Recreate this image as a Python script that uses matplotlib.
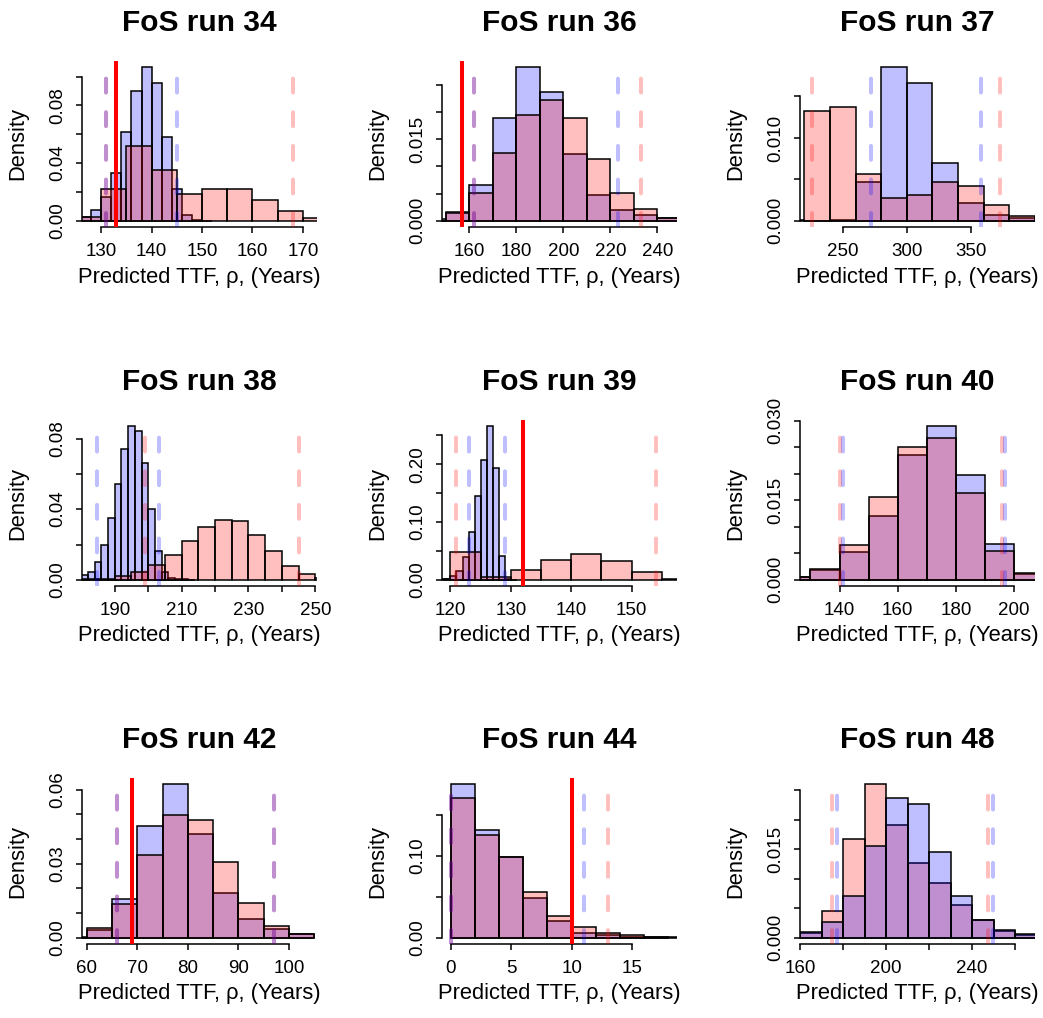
import numpy as np
import matplotlib
matplotlib.use("Agg")
import matplotlib.pyplot as plt

plt.rcParams['font.family'] = ['Liberation Sans', 'DejaVu Sans']
plt.rcParams['lines.scale_dashes'] = False

titles = ["FoS run 34", "FoS run 36", "FoS run 37",
          "FoS run 38", "FoS run 39", "FoS run 40",
          "FoS run 42", "FoS run 44", "FoS run 48"]

# histogram densities (blue = first sample, red = second sample)
run34_blue = [0.003, 0.0074, 0.0165, 0.0335, 0.0616, 0.0898, 0.1065, 0.0958, 0.058, 0.0223, 0.0044, 0.0007, 0.0002]
run34_red = [0.0025, 0.022, 0.052, 0.035, 0.0188, 0.0223, 0.0223, 0.0147, 0.007, 0.0023]
run36_blue = [0.00025, 0.0016, 0.0066, 0.0189, 0.0282, 0.0237, 0.0122, 0.0048, 0.0020, 0.0010, 0.0006]
run36_red = [0.0, 0.0015, 0.0051, 0.0125, 0.0195, 0.0222, 0.0188, 0.0113, 0.0051, 0.0021, 0.0006]
run37_blue = [0.00016, 0.0, 0.0001, 0.00474, 0.01854, 0.0166, 0.00696, 0.00215, 0.00073, 0.0003]
run37_red = [0.01328, 0.01377, 0.00567, 0.00275, 0.00308, 0.00466, 0.00421, 0.00194, 0.00057]
run38_blue = [0.0025, 0.0045, 0.0099, 0.0197, 0.0351, 0.0542, 0.0743, 0.087, 0.0844, 0.0663, 0.04, 0.0165, 0.0047, 0.001, 0.0004, 0.0002, 0.0001]
run38_red = [0.0002, 0.0005, 0.0019, 0.0042, 0.0083, 0.0142, 0.022, 0.03, 0.0341, 0.0332, 0.0254, 0.0161, 0.008, 0.0032, 0.0008]
run39_blue = [0.001, 0.006, 0.0145, 0.039, 0.0826, 0.1448, 0.207, 0.266, 0.1936, 0.0419, 0.0017, 0.0005]
run39_red = [0.001, 0.0483, 0.0052, 0.0163, 0.0349, 0.0448, 0.032, 0.0134, 0.0023]
run40_blue = [0.0006, 0.0018, 0.0052, 0.0121, 0.0235, 0.029, 0.0197, 0.0067, 0.0011]
run40_red = [0.0005, 0.00196, 0.0066, 0.01566, 0.0251, 0.0268, 0.0164, 0.0055, 0.0012]
run42_blue = [0.0003, 0.003, 0.0157, 0.0453, 0.0622, 0.0419, 0.0182, 0.0075, 0.0034, 0.0015]
run42_red = [0.0, 0.0039, 0.0136, 0.0334, 0.0497, 0.0478, 0.0305, 0.0141, 0.0048, 0.0016]
run44_blue = [0.187, 0.1318, 0.098, 0.0486, 0.0204, 0.0065, 0.0029, 0.0012, 0.0008]
run44_red = [0.170, 0.1249, 0.098, 0.0559, 0.0265, 0.0127, 0.0061, 0.0033, 0.0016, 0.0008]
run48_blue = [0.001, 0.0027, 0.0071, 0.0156, 0.0236, 0.0226, 0.0146, 0.0071, 0.0031, 0.0014, 0.0006]
run48_red = [0.0008, 0.0046, 0.0168, 0.026, 0.0191, 0.0126, 0.0092, 0.0055, 0.003, 0.0011, 0.0004]

blue_dens = [run34_blue, run36_blue, run37_blue, run38_blue, run39_blue,
             run40_blue, run42_blue, run44_blue, run48_blue]
red_dens = [run34_red, run36_red, run37_red, run38_red, run39_red,
            run40_red, run42_red, run44_red, run48_red]

# first break and bin width of each histogram
blue_start = [126, 140, 200, 180, 119, 120, 55, 0, 160]
blue_width = [2, 10, 20, 2, 1, 10, 5, 2, 10]
red_start = [125, 140, 220, 180, 115, 120, 55, 0, 160]
red_width = [5, 10, 20, 5, 5, 10, 5, 2, 10]

# interval bounds (dashed) and observed TTF (solid red)
blue_lo = [131, 162, 272, 184.7, 123, 141.1, 66, 0, 177]
blue_hi = [145.1, 223, 358, 203.1, 129, 197, 97, 11, 249.8]
red_lo = [131, 162, 226, 198.9, 120.9, 140, 66, 0, 174.8]
red_hi = [168, 233, 372.5, 245, 154, 195.7, 97, 13, 247.3]
observed = [133, 156.6, None, None, 132, None, 69, 10, None]

# drawing order: True -> red drawn on top of blue
red_on_top = [True, True, True, True, True, True, True, True, False]

xlims = [(126.2, 172.8), (148.3, 248.3), (216.6, 400.1),
         (180.2, 250.5), (118.6, 157.5), (126.4, 207.2),
         (59.1, 105.5), (-0.72, 18.72), (160, 269.2)]
xticks = [[130, 140, 150, 160, 170], [160, 180, 200, 220, 240], [250, 300, 350],
          [190, 200, 210, 220, 230, 240, 250], [120, 130, 140, 150], [140, 160, 180, 200],
          [60, 70, 80, 90, 100], [0, 5, 10, 15], [160, 180, 200, 220, 240, 260]]
xlabels = [["130", "140", "150", "160", "170"], ["160", "180", "200", "220", "240"],
           ["250", "300", "350"], ["190", "", "210", "", "230", "", "250"],
           ["120", "130", "140", "150"], ["140", "160", "180", "200"],
           ["60", "70", "80", "90", "100"], ["0", "5", "10", "15"],
           ["160", "", "200", "", "240", ""]]
yticks = [[0, 0.02, 0.04, 0.06, 0.08, 0.10], [0, 0.005, 0.010, 0.015, 0.020, 0.025],
          [0, 0.005, 0.010, 0.015], [0, 0.02, 0.04, 0.06, 0.08],
          [0, 0.05, 0.10, 0.15, 0.20, 0.25], [0, 0.005, 0.010, 0.015, 0.020, 0.025, 0.030],
          [0, 0.01, 0.02, 0.03, 0.04, 0.05, 0.06], [0, 0.05, 0.10, 0.15],
          [0, 0.005, 0.010, 0.015, 0.020, 0.025]]
ylabels = [["0.00", "", "0.04", "", "0.08", ""], ["0.000", "", "", "0.015", "", ""],
           ["0.000", "", "0.010", ""], ["0.00", "", "0.04", "", "0.08"],
           ["0.00", "", "0.10", "", "0.20", ""], ["0.000", "", "", "0.015", "", "", "0.030"],
           ["0.00", "", "", "0.03", "", "", "0.06"], ["0.00", "", "0.10", ""],
           ["0.000", "", "", "0.015", "", ""]]

W, H = 1043, 1018
fig = plt.figure(figsize=(W / 100, H / 100), dpi=100)

col_left = [82, 442, 800]
row_top = [61, 420, 778]
pw, ph = 235, 166

blue_fill = (0, 0, 1, 0.25)
red_fill = (1, 0, 0, 0.25)


def draw_hist(ax, start, width, dens, fill):
    edges = start + width * np.arange(len(dens))
    ax.bar(edges, dens, width=width, align='edge', color=fill,
           edgecolor='black', linewidth=1.1, zorder=2)


for i in range(9):
    r, c = divmod(i, 3)
    ax = fig.add_axes([col_left[c] / W, 1 - (row_top[r] + ph) / H, pw / W, ph / H])

    first = [(blue_start[i], blue_width[i], blue_dens[i], blue_fill),
             (red_start[i], red_width[i], red_dens[i], red_fill)]
    if not red_on_top[i]:
        first = first[::-1]
    for s, w, d, f in first:
        draw_hist(ax, s, w, d, f)

    ymax = max(max(blue_dens[i]), max(red_dens[i]))
    ax.set_ylim(-0.04 * ymax, 1.04 * ymax)
    ax.set_xlim(*xlims[i])

    # dashes run upward from the bottom of the plot region
    dash = dict(lw=2.9, dashes=(10.0, 14.2), dash_capstyle='round', zorder=3)
    ax.axvline(red_lo[i], color=red_fill, **dash)
    ax.axvline(red_hi[i], color=red_fill, **dash)
    ax.axvline(blue_lo[i], color=blue_fill, **dash)
    ax.axvline(blue_hi[i], color=blue_fill, **dash)
    if observed[i] is not None:
        ax.axvline(observed[i], color='red', lw=2.9, zorder=4)

    for side in ['top', 'right']:
        ax.spines[side].set_visible(False)
    for side in ['left', 'bottom']:
        ax.spines[side].set_linewidth(1.1)
    ax.spines['bottom'].set_bounds(xticks[i][0], xticks[i][-1])
    ax.spines['left'].set_bounds(yticks[i][0], yticks[i][-1])

    ax.set_xticks(xticks[i])
    ax.set_xticklabels(xlabels[i])
    ax.set_yticks(yticks[i])
    ax.set_yticklabels(ylabels[i], rotation=90, va='center')
    ax.tick_params(length=4.3, width=1.1, labelsize=13.5, pad=7)

    ax.annotate(titles[i], xy=(0.5, 1), xycoords='axes fraction',
                xytext=(0, 21.6), textcoords='offset points',
                ha='center', va='baseline', fontsize=21.5, fontweight='bold')
    ax.annotate("Predicted TTF, \u03c1, (Years)", xy=(0.5, 0), xycoords='axes fraction',
                xytext=(0, -36), textcoords='offset points',
                ha='center', va='center', fontsize=15.8)
    ax.annotate("Density", xy=(0, 0.5), xycoords='axes fraction',
                xytext=(-46, 0), textcoords='offset points',
                ha='center', va='center', rotation=90, fontsize=15.8)

fig.savefig("out.png", dpi=100)
